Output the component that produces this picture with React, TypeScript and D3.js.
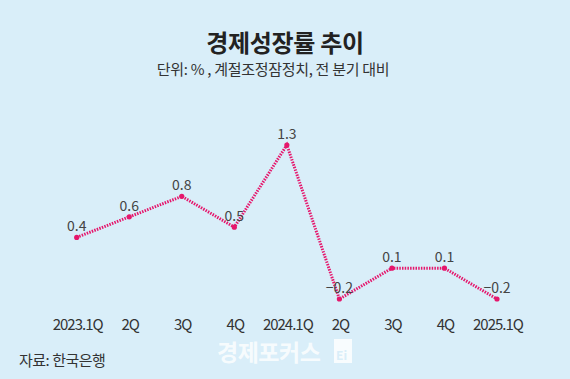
import React from "react";
import * as d3 from "d3";

const categories = ["2023.1Q", "2Q", "3Q", "4Q", "2024.1Q", "2Q", "3Q", "4Q", "2025.1Q"];
const values = [0.4, 0.6, 0.8, 0.5, 1.3, -0.2, 0.1, 0.1, -0.2];
const valueLabels = ["0.4", "0.6", "0.8", "0.5", "1.3", "−0.2", "0.1", "0.1", "−0.2"];
const title = "경제성장률 추이";
const subtitle = "단위: % , 계절조정잠정치, 전 분기 대비";
const source = "자료: 한국은행";
const watermark = "경제포커스";

const W = 570;
const H = 379;
const FONT = "'Noto Sans CJK KR', 'Noto Sans', sans-serif";
const PINK = "#e5176c";

export default function App() {
  const idx = categories.map((_, i) => i);
  const x = d3.scalePoint<number>().domain(idx).range([76.7, 497]);
  const y = d3.scaleLinear().domain([-0.2, 1.3]).range([299, 145]);
  const line = d3
    .line<number>()
    .x((_, i) => x(i)!)
    .y((d) => y(d));

  return (
    <svg
      width={W}
      height={H}
      style={{ position: "absolute", left: 0, top: 0, display: "block" }}
      fontFamily={FONT}
    >
      <rect x={0} y={0} width={W} height={H} fill="#d9eef9" />
      <text x={285} y={52} textAnchor="middle" fontSize={24} fontWeight={700} fill="#222" letterSpacing={-0.3}>
        {title}
      </text>
      <text x={273} y={75} textAnchor="middle" fontSize={15} fill="#333" letterSpacing={-0.3}>
        {subtitle}
      </text>

      <path
        d={line(values) || ""}
        fill="none"
        stroke={PINK}
        strokeWidth={3}
        strokeDasharray="1.5 1.2"
      />
      {values.map((v, i) => (
        <circle key={"c" + i} cx={x(i)} cy={y(v)} r={2.6} fill={PINK} />
      ))}
      {values.map((v, i) => (
        <text
          key={"v" + i}
          x={x(i)}
          y={y(v) - 6}
          textAnchor="middle"
          fontSize={14}
          fill="#444"
        >
          {valueLabels[i]}
        </text>
      ))}

      {categories.map((c, i) => (
        <text
          key={"x" + i}
          x={x(i)! + 1}
          y={330}
          textAnchor="middle"
          fontSize={15}
          fill="#333"
          letterSpacing={-1}
        >
          {c}
        </text>
      ))}

      <text x={19} y={366} fontSize={15} fill="#333" letterSpacing={-0.5}>
        {source}
      </text>

      <text x={217} y={361} fontSize={23} fontWeight={700} fill="#ffffff" fillOpacity={0.8} letterSpacing={-0.5}>
        {watermark}
      </text>
      <rect x={334} y={339} width={18} height={24} fill="#ffffff" fillOpacity={0.8} />
      <text x={336} y={360} fontSize={12} fontWeight={700} fill="#d9eef9">
        Ei
      </text>
    </svg>
  );
}
